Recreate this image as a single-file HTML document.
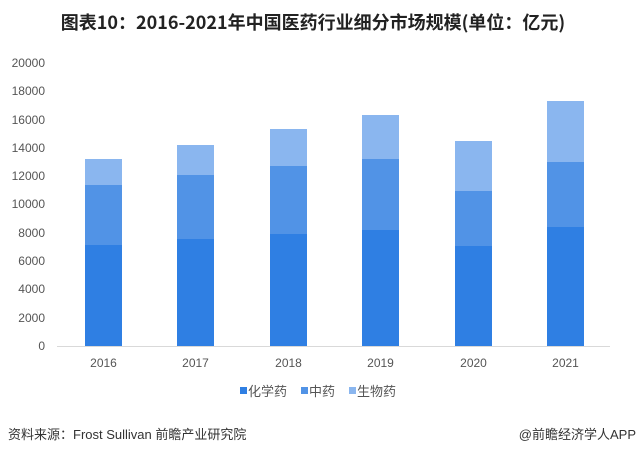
<!DOCTYPE html>
<html><head><meta charset="utf-8"><style>
html,body{margin:0;padding:0;background:#fff;width:640px;height:454px;overflow:hidden}
svg text{font-family:"Liberation Sans","Noto Sans CJK SC",sans-serif}
</style></head><body>
<svg width="640" height="454" viewBox="0 0 640 454" xmlns="http://www.w3.org/2000/svg">
<rect width="640" height="454" fill="#fff"/>
<text x="313" y="29" text-anchor="middle" font-size="18" font-weight="bold" fill="#222" style="font-family:'Noto Sans CJK SC',sans-serif">图表10：2016-2021年中国医药行业细分市场规模(单位：亿元)</text>
<g font-size="12" fill="#555" text-anchor="end">
<text x="45" y="350">0</text><text x="45" y="322">2000</text><text x="45" y="293">4000</text>
<text x="45" y="265">6000</text><text x="45" y="237">8000</text><text x="45" y="208">10000</text>
<text x="45" y="180">12000</text><text x="45" y="152">14000</text><text x="45" y="124">16000</text>
<text x="45" y="95">18000</text><text x="45" y="67">20000</text>
</g>
<line x1="57" y1="346.5" x2="610" y2="346.5" stroke="#d9d9d9"/>
<g>
<rect x="85" y="245" width="37" height="101" fill="#2f7fe3"/><rect x="85" y="185" width="37" height="60" fill="#5193e6"/><rect x="85" y="159" width="37" height="26" fill="#8ab6ef"/>
<rect x="177" y="239" width="37" height="107" fill="#2f7fe3"/><rect x="177" y="175" width="37" height="64" fill="#5193e6"/><rect x="177" y="145" width="37" height="30" fill="#8ab6ef"/>
<rect x="270" y="234" width="37" height="112" fill="#2f7fe3"/><rect x="270" y="166" width="37" height="68" fill="#5193e6"/><rect x="270" y="129" width="37" height="37" fill="#8ab6ef"/>
<rect x="362" y="230" width="37" height="116" fill="#2f7fe3"/><rect x="362" y="159" width="37" height="71" fill="#5193e6"/><rect x="362" y="115" width="37" height="44" fill="#8ab6ef"/>
<rect x="455" y="246" width="37" height="100" fill="#2f7fe3"/><rect x="455" y="191" width="37" height="55" fill="#5193e6"/><rect x="455" y="141" width="37" height="50" fill="#8ab6ef"/>
<rect x="547" y="227" width="37" height="119" fill="#2f7fe3"/><rect x="547" y="162" width="37" height="65" fill="#5193e6"/><rect x="547" y="101" width="37" height="61" fill="#8ab6ef"/>
</g>
<g font-size="12" fill="#555" text-anchor="middle">
<text x="103.5" y="367">2016</text><text x="195.5" y="367">2017</text><text x="288.5" y="367">2018</text>
<text x="380.5" y="367">2019</text><text x="473.5" y="367">2020</text><text x="565.5" y="367">2021</text>
</g>
<g font-size="13" fill="#555">
<rect x="240" y="387" width="7" height="7" fill="#2f7fe3"/><text x="248" y="396">化学药</text>
<rect x="301" y="387" width="7" height="7" fill="#5193e6"/><text x="309" y="396">中药</text>
<rect x="349" y="387" width="7" height="7" fill="#8ab6ef"/><text x="357" y="396">生物药</text>
</g>
<text x="8" y="439" font-size="13" fill="#333">资料来源：Frost Sullivan 前瞻产业研究院</text>
<text x="636" y="439" font-size="13" fill="#333" text-anchor="end">@前瞻经济学人APP</text>
</svg>
</body></html>
